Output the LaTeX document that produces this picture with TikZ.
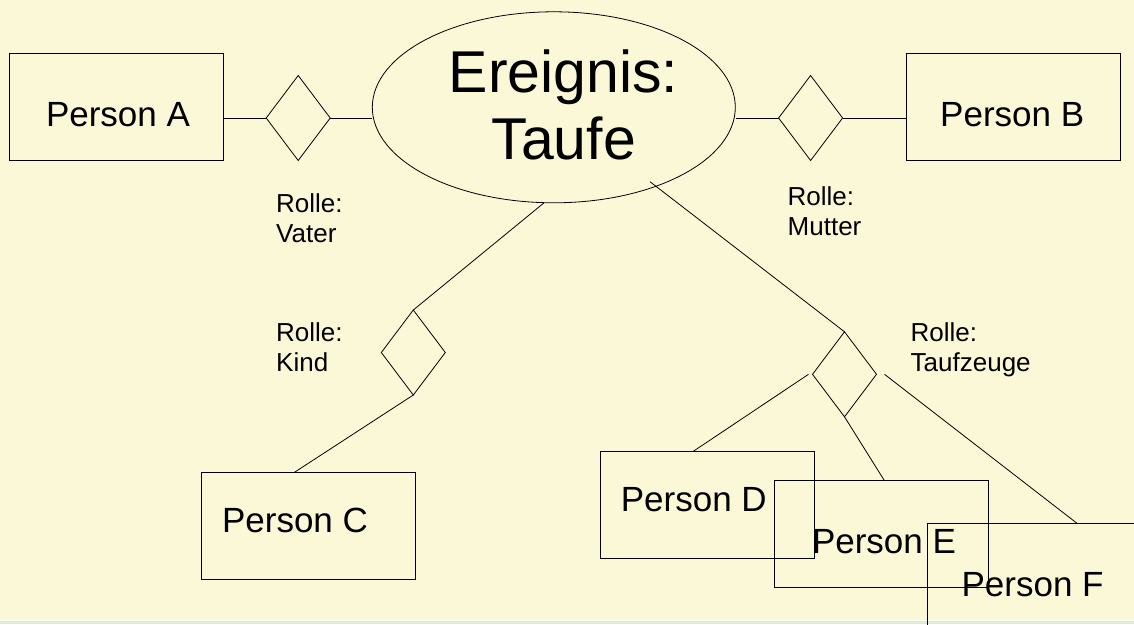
\documentclass[tikz,border=0pt]{standalone}
\usepackage{fontspec}
\setmainfont{Liberation Sans}
\usetikzlibrary{shapes.geometric}

\definecolor{paper}{RGB}{250,248,215}
\definecolor{strip}{RGB}{221,237,201}

\tikzset{
    person/.style={draw, line width=1pt, minimum width=214pt, minimum height=107pt, inner sep=0pt, outer sep=0pt},
    rolle/.style={draw, diamond, line width=0.8pt, minimum width=64pt, minimum height=85pt, inner sep=0pt, outer sep=0pt},
    pname/.style={font=\fontsize{35}{42}\selectfont, inner sep=0pt, anchor=base},
    rname/.style={font=\fontsize{26}{30}\selectfont, align=left, inner sep=0pt, anchor=north west},
    link/.style={line width=0.8pt}
}

\begin{document}
\begin{tikzpicture}[x=1pt, y=-1pt]
        \fill[paper] (0,0) rectangle (1134,620);
        \fill[white] (0,620) rectangle (1134,621);
        \fill[strip] (0,621) rectangle (1134,624);
        \useasboundingbox (0,0) rectangle (1134,624);

        \node[draw, ellipse, line width=0.8pt, minimum width=363pt, minimum height=191pt] (ev) at (553.8,107.3) {};
        \node[font=\fontsize{59}{67}\selectfont, align=center, inner sep=0pt] (evt) at (563.6,105.3) {Ereignis:\\Taufe};

        \node[person] (pa) at (116.3,107) {};
        \node[person] (pb) at (1013,107) {};
        \node[person] (pc) at (308.7,526.3) {};
        \node[person] (pd) at (707,505) {};
        \node[person] (pe) at (881,534.3) {};
        \node[person] (pf) at (1034.6,576.5) {};

        \node[rolle] (da) at (298.2,118) {};
        \node[rolle] (db) at (810.6,118) {};
        \node[rolle] (dk) at (413.3,352.5) {};
        \node[rolle] (dt) at (844.5,374.3) {};
        \coordinate (tz) at (650,181.7);

        \draw[link] (pa.east |- da.west) -- (da.west);
        \draw[link] (da.east) -- (ev.west |- da.east);
        \draw[link] (ev.east |- db.west) -- (db.west);
        \draw[link] (db.east) -- (pb.west |- db.east);
        \draw[link] (ev.264) -- (dk.north);
        \draw[link] (tz) -- (dt.north);
        \draw[link] (dk.south) -- ([xshift=-15pt]pc.north);
        \draw[link] ([xshift=-4pt]dt.west) -- ([xshift=-14pt]pd.north);
        \draw[link] (dt.south) -- ([xshift=3.5pt]pe.north);
        \draw[link] ([xshift=8pt]dt.east) -- ([xshift=42pt]pf.north);

        \node[pname] (ta) at (118,126.7) {Person A};
        \node[pname] (tb) at (1012.2,126.7) {Person B};
        \node[pname] (tc) at (295,532.3) {Person C};
        \node[pname] (td) at (693.8,511) {Person D};
        \node[pname] (te) at (884,553.7) {Person E};
        \node[pname] (tf) at (1032.6,596) {Person F};

        \node[rname] (rv) at (276,193) {Rolle:\\Vater};
        \node[rname] (rm) at (787.5,186) {Rolle:\\Mutter};
        \node[rname] (rk) at (276,322.7) {Rolle:\\Kind};
        \node[rname] (rt) at (910.5,322.3) {Rolle:\\Taufzeuge};
\end{tikzpicture}
\end{document}
